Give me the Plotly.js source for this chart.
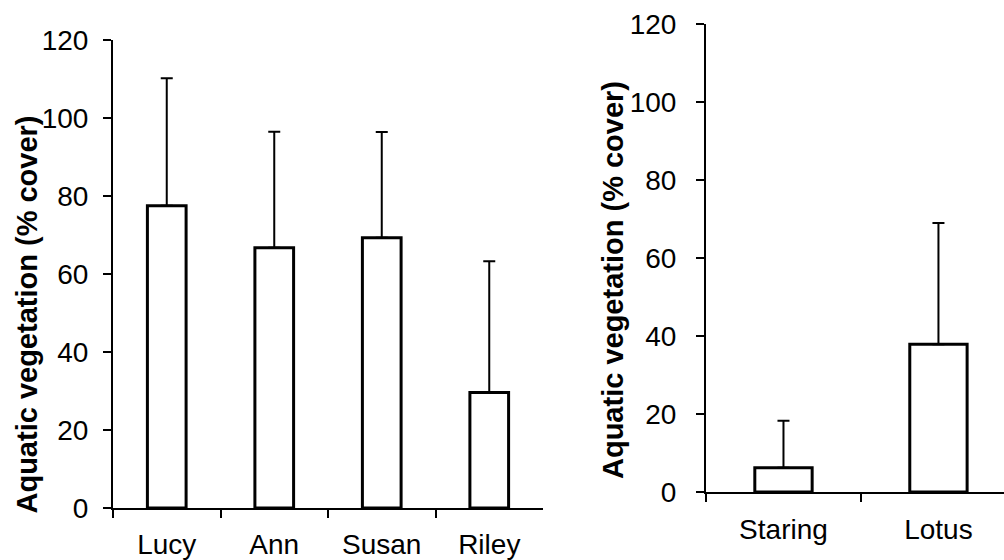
<!DOCTYPE html>
<html>
<head>
<meta charset="utf-8">
<script src="https://cdn.plot.ly/plotly-3.0.1.min.js"></script>
<style>html,body{margin:0;padding:0;overflow:hidden;background:#fff;}</style>
</head>
<body>
<div id="chart" style="width:1004px;height:560px;"></div>
<script>
// Left panel
const lakesLeft = ["Lucy", "Ann", "Susan", "Riley"];
const coverLeft = [77.5, 66.7, 69.3, 29.6];
const errLeft = [32.7, 29.8, 27.1, 33.7];
// Right panel
const lakesRight = ["Staring", "Lotus"];
const coverRight = [6.2, 37.9];
const errRight = [12.1, 31.1];
const yTicks = [0, 20, 40, 60, 80, 100, 120];
const yTitle = "Aquatic vegetation (% cover)";

const FONT = "Liberation Sans, Arial, Helvetica, sans-serif";

function zeros(n){ const a=[]; for(let i=0;i<n;i++) a.push(0); return a; }

const traces = [
  {
    type: "bar", x: lakesLeft, y: coverLeft, xaxis: "x", yaxis: "y",
    width: 0.36,
    marker: {color: "#ffffff", line: {color: "#000000", width: 3}},
    error_y: {type: "data", symmetric: false, array: errLeft, arrayminus: zeros(errLeft.length),
              color: "#000000", thickness: 2, width: 6},
    hoverinfo: "none", showlegend: false
  },
  {
    type: "bar", x: lakesRight, y: coverRight, xaxis: "x2", yaxis: "y2",
    width: 0.37,
    marker: {color: "#ffffff", line: {color: "#000000", width: 3}},
    error_y: {type: "data", symmetric: false, array: errRight, arrayminus: zeros(errRight.length),
              color: "#000000", thickness: 2, width: 6},
    hoverinfo: "none", showlegend: false
  }
];

const axisCommon = {
  showgrid: false, zeroline: false, showline: true, linecolor: "#000000", linewidth: 2,
  ticks: "outside", ticklen: 8, tickwidth: 2, tickcolor: "#000000",
  tickfont: {family: FONT, size: 28, color: "#000000"}, fixedrange: true
};

const layout = {
  width: 1004, height: 560,
  margin: {l: 0, r: 0, t: 0, b: 0},
  paper_bgcolor: "#ffffff", plot_bgcolor: "#ffffff",
  bargap: 0.6,
  xaxis: Object.assign({}, axisCommon, {
    domain: [113/1004, 543/1004], anchor: "y",
    type: "category", range: [-0.5, 3.5], tickson: "boundaries",
    ticklabelstandoff: 10
  }),
  yaxis: Object.assign({}, axisCommon, {
    domain: [52/560, 520/560], anchor: "x",
    range: [0, 120], tickvals: yTicks, ticktext: yTicks.map(String),
    ticklabelstandoff: 9
  }),
  xaxis2: Object.assign({}, axisCommon, {
    domain: [706/1004, 1], anchor: "y2",
    type: "category", range: [-0.5, 1.423], tickson: "boundaries",
    ticklabelstandoff: 11
  }),
  yaxis2: Object.assign({}, axisCommon, {
    domain: [68/560, 536/560], anchor: "x2",
    range: [0, 120], tickvals: yTicks, ticktext: yTicks.map(String),
    ticklabelstandoff: 14
  }),
  annotations: [
    {text: "<b>" + yTitle + "</b>", xref: "paper", yref: "paper",
     x: 26/1004, y: (560-314.5)/560, xanchor: "center", yanchor: "middle",
     textangle: -90, showarrow: false, font: {family: FONT, size: 29, color: "#000000"}},
    {text: "<b>" + yTitle + "</b>", xref: "paper", yref: "paper",
     x: 613/1004, y: (560-280)/560, xanchor: "center", yanchor: "middle",
     textangle: -90, showarrow: false, font: {family: FONT, size: 29, color: "#000000"}}
  ]
};

Plotly.newPlot("chart", traces, layout, {staticPlot: true, displayModeBar: false});
</script>
</body>
</html>
